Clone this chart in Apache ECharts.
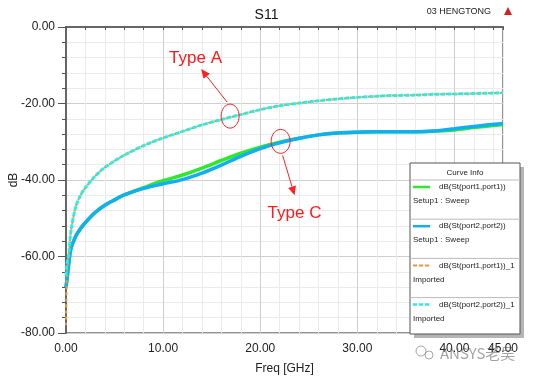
<!DOCTYPE html>
<html>
<head>
<meta charset="utf-8">
<script src="https://cdn.jsdelivr.net/npm/echarts@6/dist/echarts.min.js"></script>
<style>
html, body { margin: 0; padding: 0; background: #fff; }
#main { width: 533px; height: 377px; }
</style>
</head>
<body>
<div id="main"></div>
<script>
// frequency points (GHz)
var freq = [0, 0.1, 0.3, 0.5, 1, 1.5, 2, 3, 4, 5, 6, 8, 10, 12, 14, 16, 18, 20, 22, 24, 26, 28, 30, 32, 34, 36, 38, 40, 42, 45];
// Type C, simulated sweep
var s11Sweep = [-68, -66, -61.5, -58, -54.7, -52.7, -51.1, -48.5, -46.6, -45.2, -43.9, -42.0, -40.2, -38.7, -36.9, -34.9, -33.0, -31.4, -30.1, -29.1, -28.2, -27.7, -27.5, -27.4, -27.4, -27.4, -27.2, -26.9, -26.3, -25.5];
var s22Sweep = [-68, -66, -61.5, -58, -54.7, -52.7, -51.1, -48.5, -46.6, -45.2, -43.9, -42.2, -41.0, -39.9, -38.2, -36.1, -33.8, -31.8, -30.3, -29.1, -28.2, -27.7, -27.5, -27.4, -27.4, -27.4, -27.2, -26.6, -26.0, -25.2];
// Type A, imported
var s11Imported = [-78, -64, -59, -53.5, -47, -44, -42, -39, -36.7, -35, -33.5, -31, -29, -27.3, -25.6, -24.2, -22.9, -21.6, -20.6, -19.9, -19.3, -18.8, -18.4, -18.1, -17.9, -17.8, -17.6, -17.5, -17.4, -17.2];
var s22Imported = [-65, -62, -59, -53.5, -47, -44, -42, -39, -36.7, -35, -33.5, -31, -29, -27.3, -25.6, -24.2, -22.9, -21.6, -20.6, -19.9, -19.3, -18.8, -18.4, -18.1, -17.9, -17.8, -17.6, -17.5, -17.4, -17.2];

var seriesNames = ['dB(St(port1,port1))', 'dB(St(port2,port2))', 'dB(St(port1,port1))_1', 'dB(St(port2,port2))_1'];
var seriesSub = ['Setup1 : Sweep', 'Setup1 : Sweep', 'Imported', 'Imported'];
var xLabelValues = [0, 10, 20, 30, 40, 45];

var font = "'Liberation Sans', Arial, sans-serif";
var chart = echarts.init(document.getElementById('main'));

function pairs(ys) {
    return freq.map(function (f, i) { return [f, ys[i]]; });
}

var lineStyles = [
    { color: '#2ee82e', width: 3.5, type: 'solid' },
    { color: '#12aef2', width: 3.5, type: 'solid' },
    { color: '#f7962e', width: 2, type: [3, 3] },
    { color: '#22f0f0', width: 3, type: [4, 2] }
];
var values = [s11Sweep, s22Sweep, s11Imported, s22Imported];

var option = {
    animation: false,
    backgroundColor: '#fff',
    textStyle: { fontFamily: font },
    title: {
        text: 'S11',
        left: 'center',
        top: 3,
        textStyle: { fontFamily: font, fontSize: 14, fontWeight: 'normal', color: '#111' }
    },
    grid: {
        left: 66, right: 30, top: 27, bottom: 44,
        outerBoundsMode: 'none',
        containLabel: false,
        show: true, borderColor: '#707070', borderWidth: 1.5
    },
    xAxis: {
        type: 'value',
        min: 0, max: 45, interval: 2,
        name: 'Freq [GHz]',
        nameLocation: 'middle',
        nameGap: 30,
        nameTextStyle: { fontFamily: font, fontSize: 12, color: '#222' },
        axisLine: { lineStyle: { color: '#666', width: 2 } },
        axisTick: { show: true, interval: 0, length: 3, lineStyle: { color: '#555' } },
        axisLabel: {
            interval: 0, showMaxLabel: true, margin: 10,
            fontFamily: font, fontSize: 12, color: '#222',
            formatter: function (v) {
                return xLabelValues.indexOf(v) >= 0 ? v.toFixed(2) : '';
            }
        },
        splitLine: {
            show: true,
            lineStyle: { color: ['#cfcfcf', '#ebebeb', '#ebebeb', '#ebebeb', '#ebebeb'], width: 1 }
        }
    },
    yAxis: {
        type: 'value',
        min: -80, max: 0, interval: 20,
        name: 'dB',
        nameLocation: 'middle',
        nameGap: 46,
        nameMoveOverlap: false,
        nameTextStyle: { fontFamily: font, fontSize: 12, color: '#222' },
        axisLine: { show: true, lineStyle: { color: '#666', width: 2 } },
        axisTick: { show: true, length: 8, lineStyle: { color: '#555' } },
        minorTick: { show: true, splitNumber: 5, length: 4, lineStyle: { color: '#555' } },
        axisLabel: {
            margin: 11, fontFamily: font, fontSize: 12, color: '#222',
            formatter: function (v) { return v.toFixed(2); }
        },
        splitLine: { show: true, lineStyle: { color: '#cfcfcf' } },
        minorSplitLine: { show: true, lineStyle: { color: '#ebebeb' } }
    },
    series: values.map(function (ys, i) {
        return {
            name: seriesNames[i],
            type: 'line',
            showSymbol: false,
            symbol: 'none',
            smooth: 0.3,
            lineStyle: lineStyles[i],
            data: pairs(ys),
            z: 2 + i
        };
    })
};
chart.setOption(option);

// ---- annotations, legend box, header marks ----
function arrow(x1, y1, x2, y2) {
    var a = Math.atan2(y2 - y1, x2 - x1), L = 9, W = 4;
    var hx = x2 - L * Math.cos(a), hy = y2 - L * Math.sin(a);
    return [{
        type: 'line', z: 100,
        shape: { x1: x1, y1: y1, x2: hx, y2: hy },
        style: { stroke: '#ff2020', lineWidth: 1 }
    }, {
        type: 'polygon', z: 100,
        shape: { points: [[x2, y2], [hx + W * Math.sin(a), hy - W * Math.cos(a)], [hx - W * Math.sin(a), hy + W * Math.cos(a)]] },
        style: { fill: '#ff2020' }
    }];
}

var pA = chart.convertToPixel({ gridIndex: 0 }, [16.9, -23.3]);
var pC = chart.convertToPixel({ gridIndex: 0 }, [22.1, -29.9]);
var g = [];
g.push({ type: 'ellipse', z: 100, shape: { cx: pA[0], cy: pA[1], rx: 9, ry: 12 }, style: { fill: null, stroke: '#ff2020', lineWidth: 1 } });
g = g.concat(arrow(pA[0] - 3, pA[1] - 14, pA[0] - 29, pA[1] - 47));
g.push({ type: 'text', z: 100, x: pA[0] - 61, y: pA[1] - 58, style: { text: 'Type A', fill: '#ff1a1a', font: '17px ' + font, textVerticalAlign: 'middle' } });
g.push({ type: 'ellipse', z: 100, shape: { cx: pC[0], cy: pC[1], rx: 9.5, ry: 12 }, style: { fill: null, stroke: '#ff2020', lineWidth: 1 } });
g = g.concat(arrow(pC[0] + 2, pC[1] + 14, pC[0] + 14, pC[1] + 54));
g.push({ type: 'text', z: 100, x: pC[0] - 13, y: pC[1] + 72, style: { text: 'Type C', fill: '#ff1a1a', font: '17px ' + font, textVerticalAlign: 'middle' } });

// legend box "Curve Info"
var boxX = 410, boxY = 163, boxW = 110, boxH = 171, rowH = 39.2;
g.push({ type: 'rect', z: 110, shape: { x: boxX + 4, y: boxY + 4, width: boxW, height: boxH }, style: { fill: '#b5b5b5' } });
g.push({ type: 'rect', z: 111, shape: { x: boxX, y: boxY, width: boxW, height: boxH }, style: { fill: '#fff', stroke: '#555', lineWidth: 1 } });
g.push({ type: 'text', z: 112, x: boxX + boxW / 2, y: boxY + 10, style: { text: 'Curve Info', fill: '#222', font: '8px ' + font, textAlign: 'center', textVerticalAlign: 'middle' } });
for (var i = 0; i < seriesNames.length; i++) {
    var rowTop = boxY + 17 + i * rowH;
    g.push({ type: 'line', z: 112, shape: { x1: boxX, y1: rowTop, x2: boxX + boxW, y2: rowTop }, style: { stroke: '#bbb', lineWidth: 1 } });
    var ls = lineStyles[i];
    g.push({ type: 'line', z: 112, shape: { x1: boxX + 3, y1: rowTop + 7, x2: boxX + 20, y2: rowTop + 7 },
        style: { stroke: ls.color, lineWidth: Math.min(ls.width, 2.5), lineDash: ls.type === 'solid' ? null : [4, 2] } });
    g.push({ type: 'text', z: 112, x: boxX + 29, y: rowTop + 7, style: { text: seriesNames[i], fill: '#222', font: '8px ' + font, textVerticalAlign: 'middle' } });
    g.push({ type: 'text', z: 112, x: boxX + 3, y: rowTop + 21, style: { text: seriesSub[i], fill: '#222', font: '8px ' + font, textVerticalAlign: 'middle' } });
}

// header marks
g.push({ type: 'text', z: 100, x: 491, y: 12, style: { text: '03 HENGTONG', fill: '#222', font: '9px ' + font, textAlign: 'right', textVerticalAlign: 'middle' } });
g.push({ type: 'polygon', z: 100, shape: { points: [[508, 7], [504, 15], [512, 15]] }, style: { fill: '#d42020' } });

// watermark
g.push({ type: 'circle', z: 120, shape: { cx: 421, cy: 351, r: 5 }, style: { fill: null, stroke: 'rgba(110,110,110,0.6)', lineWidth: 1 } });
g.push({ type: 'circle', z: 120, shape: { cx: 429, cy: 355, r: 4 }, style: { fill: null, stroke: 'rgba(110,110,110,0.6)', lineWidth: 1 } });
g.push({ type: 'text', z: 120, x: 440, y: 353, style: { text: 'ANSYS老吴', fill: 'rgba(90,90,90,0.55)', font: '15px "Noto Sans CJK SC", ' + font, textVerticalAlign: 'middle' } });

chart.setOption({ graphic: g });
</script>
</body>
</html>
